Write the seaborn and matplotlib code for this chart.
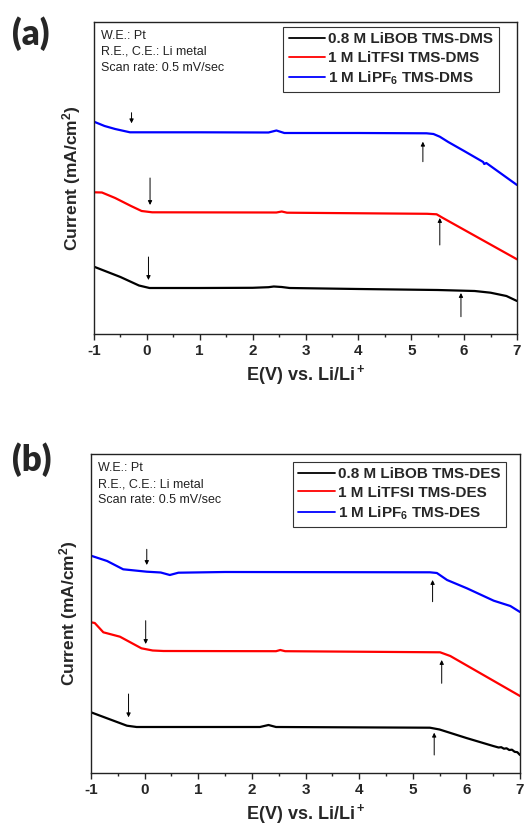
import numpy as np
import pandas as pd
import matplotlib
matplotlib.use("Agg")
import matplotlib.pyplot as plt
import seaborn as sns

sns.set_style("ticks")
plt.rcParams['font.family'] = ['Liberation Sans', 'DejaVu Sans']
plt.rcParams['mathtext.fontset'] = 'custom'
plt.rcParams['mathtext.bf'] = 'Liberation Sans:bold'
plt.rcParams['mathtext.rm'] = 'Liberation Sans:bold'
plt.rcParams['mathtext.default'] = 'bf'

# ---------------- Panel (a): TMS-DMS ----------------
a_labels = ["0.8 M LiBOB TMS-DMS", "1 M LiTFSI TMS-DMS", "1 M LiPF$_6$ TMS-DMS"]
a_black_x = [-1, -0.5, -0.15, 0.05, 1, 2, 2.3, 2.4, 2.55, 2.7, 4, 5.5, 6.2, 6.5, 6.8, 7]
a_black_y = [6.73, 5.7, 4.85, 4.6, 4.6, 4.62, 4.68, 4.75, 4.7, 4.6, 4.5, 4.4, 4.3, 4.13, 3.8, 3.3]
a_red_x = [-1, -0.85, -0.6, -0.3, -0.1, 0.1, 2.45, 2.55, 2.65, 5.3, 5.48, 5.6, 7]
a_red_y = [14.17, 14.15, 13.6, 12.8, 12.3, 12.17, 12.15, 12.25, 12.13, 12.02, 11.97, 11.6, 7.47]
a_blue_x = [-1, -0.8, -0.6, -0.32, 1, 2.3, 2.45, 2.6, 4, 5.29, 5.42, 5.54, 5.7, 6.0, 6.36, 6.38, 6.42, 7]
a_blue_y = [21.23, 20.8, 20.5, 20.17, 20.17, 20.15, 20.35, 20.1, 20.1, 20.07, 20.0, 19.73, 19.2, 18.3, 17.2, 17.0, 17.1, 14.9]
# arrows (x, tail y, head y): black, red, blue; onset then limit
a_arrow_x = [0.03, 5.94, 0.06, 5.54, -0.29, 5.22]
a_arrow_from = [7.7, 1.73, 15.6, 8.9, 22.13, 17.23]
a_arrow_to = [5.4, 4.1, 12.9, 11.6, 21.07, 19.23]

# ---------------- Panel (b): TMS-DES ----------------
b_labels = ["0.8 M LiBOB TMS-DES", "1 M LiTFSI TMS-DES", "1 M LiPF$_6$ TMS-DES"]
b_black_x = [-1, -0.33, -0.15, 2.15, 2.31, 2.45, 5.32, 5.5, 6.0, 6.5, 6.6, 6.65, 6.7, 6.75, 6.8, 6.85, 6.9, 6.95, 7]
b_black_y = [6.07, 4.73, 4.6, 4.6, 4.8, 4.6, 4.53, 4.35, 3.5, 2.7, 2.55, 2.58, 2.43, 2.47, 2.3, 2.33, 2.12, 2.08, 1.8]
b_red_x = [-1, -0.93, -0.77, -0.46, -0.06, 0.15, 0.35, 2.45, 2.53, 2.62, 5.51, 5.7, 7]
b_red_y = [15.07, 15.0, 14.07, 13.63, 12.47, 12.25, 12.2, 12.18, 12.3, 12.18, 12.07, 11.7, 7.7]
b_blue_x = [-1, -0.7, -0.4, 0.04, 0.3, 0.47, 0.63, 1.5, 5.32, 5.45, 5.64, 6.01, 6.51, 6.82, 7]
b_blue_y = [21.73, 21.2, 20.37, 20.13, 20.05, 19.8, 20.03, 20.1, 20.07, 20.0, 19.3, 18.47, 17.23, 16.7, 16.1]
b_arrow_x = [-0.30, 5.40, 0.02, 5.54, 0.04, 5.37]
b_arrow_from = [7.9, 1.8, 15.23, 8.97, 22.37, 17.13]
b_arrow_to = [5.57, 4.03, 12.9, 11.3, 20.8, 19.3]

conditions = ["W.E.: Pt", "R.E., C.E.: Li metal", "Scan rate: 0.5 mV/sec"]
colors = ["black", "#ff0000", "#0000ff"]
xticks = [-1, 0, 1, 2, 3, 4, 5, 6, 7]

W, H = 526, 827
fig = plt.figure(figsize=(W / 100, H / 100), dpi=100)


def panel(rect, ylim, series, labels, ax_x, ax_from, ax_to, leg_anchor, tag, tag_y):
    l, t, r, b = rect
    ax = fig.add_axes([l / W, 1 - b / H, (r - l) / W, (b - t) / H])
    for (xs, ys), lab, c in zip(series, labels, colors):
        df = pd.DataFrame({"E": xs, "I": ys})
        sns.lineplot(data=df, x="E", y="I", color=c, lw=1.6, ax=ax, label=lab, sort=True)
    for x, y0, y1 in zip(ax_x, ax_from, ax_to):
        ax.annotate("", xy=(x, y1), xytext=(x, y0),
                    arrowprops=dict(arrowstyle="-|>", lw=0.7, color="black",
                                    mutation_scale=6, shrinkA=0, shrinkB=0))
    ax.set_xlim(-1, 7)
    ax.set_ylim(*ylim)
    ax.set_xticks(xticks)
    ax.set_xticklabels([str(v) for v in xticks], fontsize=11, fontweight="bold")
    ax.set_xticks(np.arange(-0.5, 7, 1.0), minor=True)
    ax.tick_params(axis="x", which="major", direction="out", length=4, width=1, pad=3)
    ax.tick_params(axis="x", which="minor", direction="out", length=2.5, width=1)
    ax.set_yticks([])
    for s in ax.spines.values():
        s.set_linewidth(1.0)
        s.set_color("#222222")
    ax.set_xlabel("E(V) vs. Li/Li$^+$", fontsize=13, fontweight="bold", labelpad=4)
    ax.set_ylabel("Current (mA/cm$^2$)", fontsize=12.5, fontweight="bold", labelpad=8)
    leg = ax.legend(loc="upper right", bbox_to_anchor=leg_anchor, frameon=True,
                    fancybox=False, edgecolor="#333333", framealpha=1,
                    prop={"size": 11, "weight": "bold"}, handlelength=2.4,
                    handletextpad=0.2, labelspacing=0.3, borderpad=0.35,
                    borderaxespad=0)
    leg.get_frame().set_linewidth(0.8)
    for h in leg.get_lines():
        h.set_linewidth(1.3)
    ax.text(0.016, 0.975, "\n".join(conditions), transform=ax.transAxes, fontsize=9,
            va="top", ha="left", linespacing=1.45, color="#222222")
    fig.text(12 / W, 1 - tag_y / H, tag, fontsize=25, fontweight="heavy",
             family=["Lato", "DejaVu Sans"], va="top", ha="left")
    return ax


panel((94, 22, 517, 334), (0, 31.2),
      [(a_black_x, a_black_y), (a_red_x, a_red_y), (a_blue_x, a_blue_y)],
      a_labels, a_arrow_x, a_arrow_from, a_arrow_to, (0.957, 0.984), "(a)", 16)
panel((91, 454, 520, 773), (0, 31.9),
      [(b_black_x, b_black_y), (b_red_x, b_red_y), (b_blue_x, b_blue_y)],
      b_labels, b_arrow_x, b_arrow_from, b_arrow_to, (0.967, 0.976), "(b)", 442)

fig.savefig("out.png", dpi=100)
